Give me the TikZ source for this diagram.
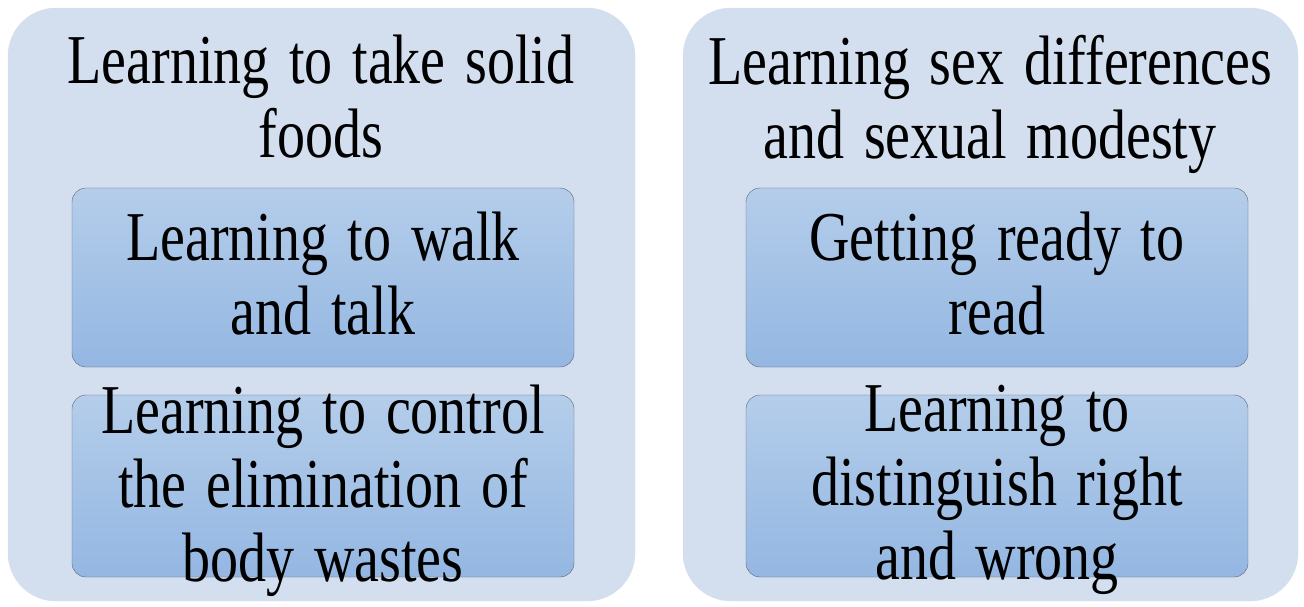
\documentclass[tikz,border=0pt]{standalone}
\usepackage{fontspec}
\setmainfont[WordSpace=1.4]{Liberation Serif}
\definecolor{panelbg}{HTML}{D3DEEF}
\definecolor{boxtop}{HTML}{B4CDEA}
\definecolor{boxbottom}{HTML}{94B7E2}
\definecolor{boxline}{HTML}{5B6575}
\tikzset{
    tasktext/.style = {font = \fontsize{70}{74}\selectfont, align = center, inner sep = 0pt, anchor = north, xscale = 0.8}
}
\begin{document}
\begin{tikzpicture}[x = 1pt, y = -1pt]
        \useasboundingbox (0,0) rectangle (1304,606);
        \draw [color = panelbg, fill = panelbg, rounded corners = 48pt] (8,8) rectangle (635,601);
        \draw [color = panelbg, fill = panelbg, rounded corners = 48pt] (683,8) rectangle (1298,601);
        \draw [color = boxline, top color = boxtop, bottom color = boxbottom, rounded corners = 14pt] (72,188) rectangle (574,367);
        \draw [color = boxline, top color = boxtop, bottom color = boxbottom, rounded corners = 14pt] (72,395) rectangle (574,577);
        \draw [color = boxline, top color = boxtop, bottom color = boxbottom, rounded corners = 14pt] (746,188) rectangle (1248,367);
        \draw [color = boxline, top color = boxtop, bottom color = boxbottom, rounded corners = 14pt] (746,395) rectangle (1248,577);
        \node [tasktext] (foods) at (321,35) {Learning to take solid\\foods};
        \node [tasktext] (walk) at (323,212) {Learning to walk\\and talk};
        \node [tasktext] (wastes) at (323,385) {Learning to control\\the elimination of\\body wastes};
        \node [tasktext] (modesty) at (990,35) {Learning sex differences\\and sexual modesty};
        \node [tasktext] (read) at (997,212) {Getting ready to\\read};
        \node [tasktext] (wrong) at (997,385) {Learning to\\distinguish right\\and wrong};
    \end{tikzpicture}
\end{document}
